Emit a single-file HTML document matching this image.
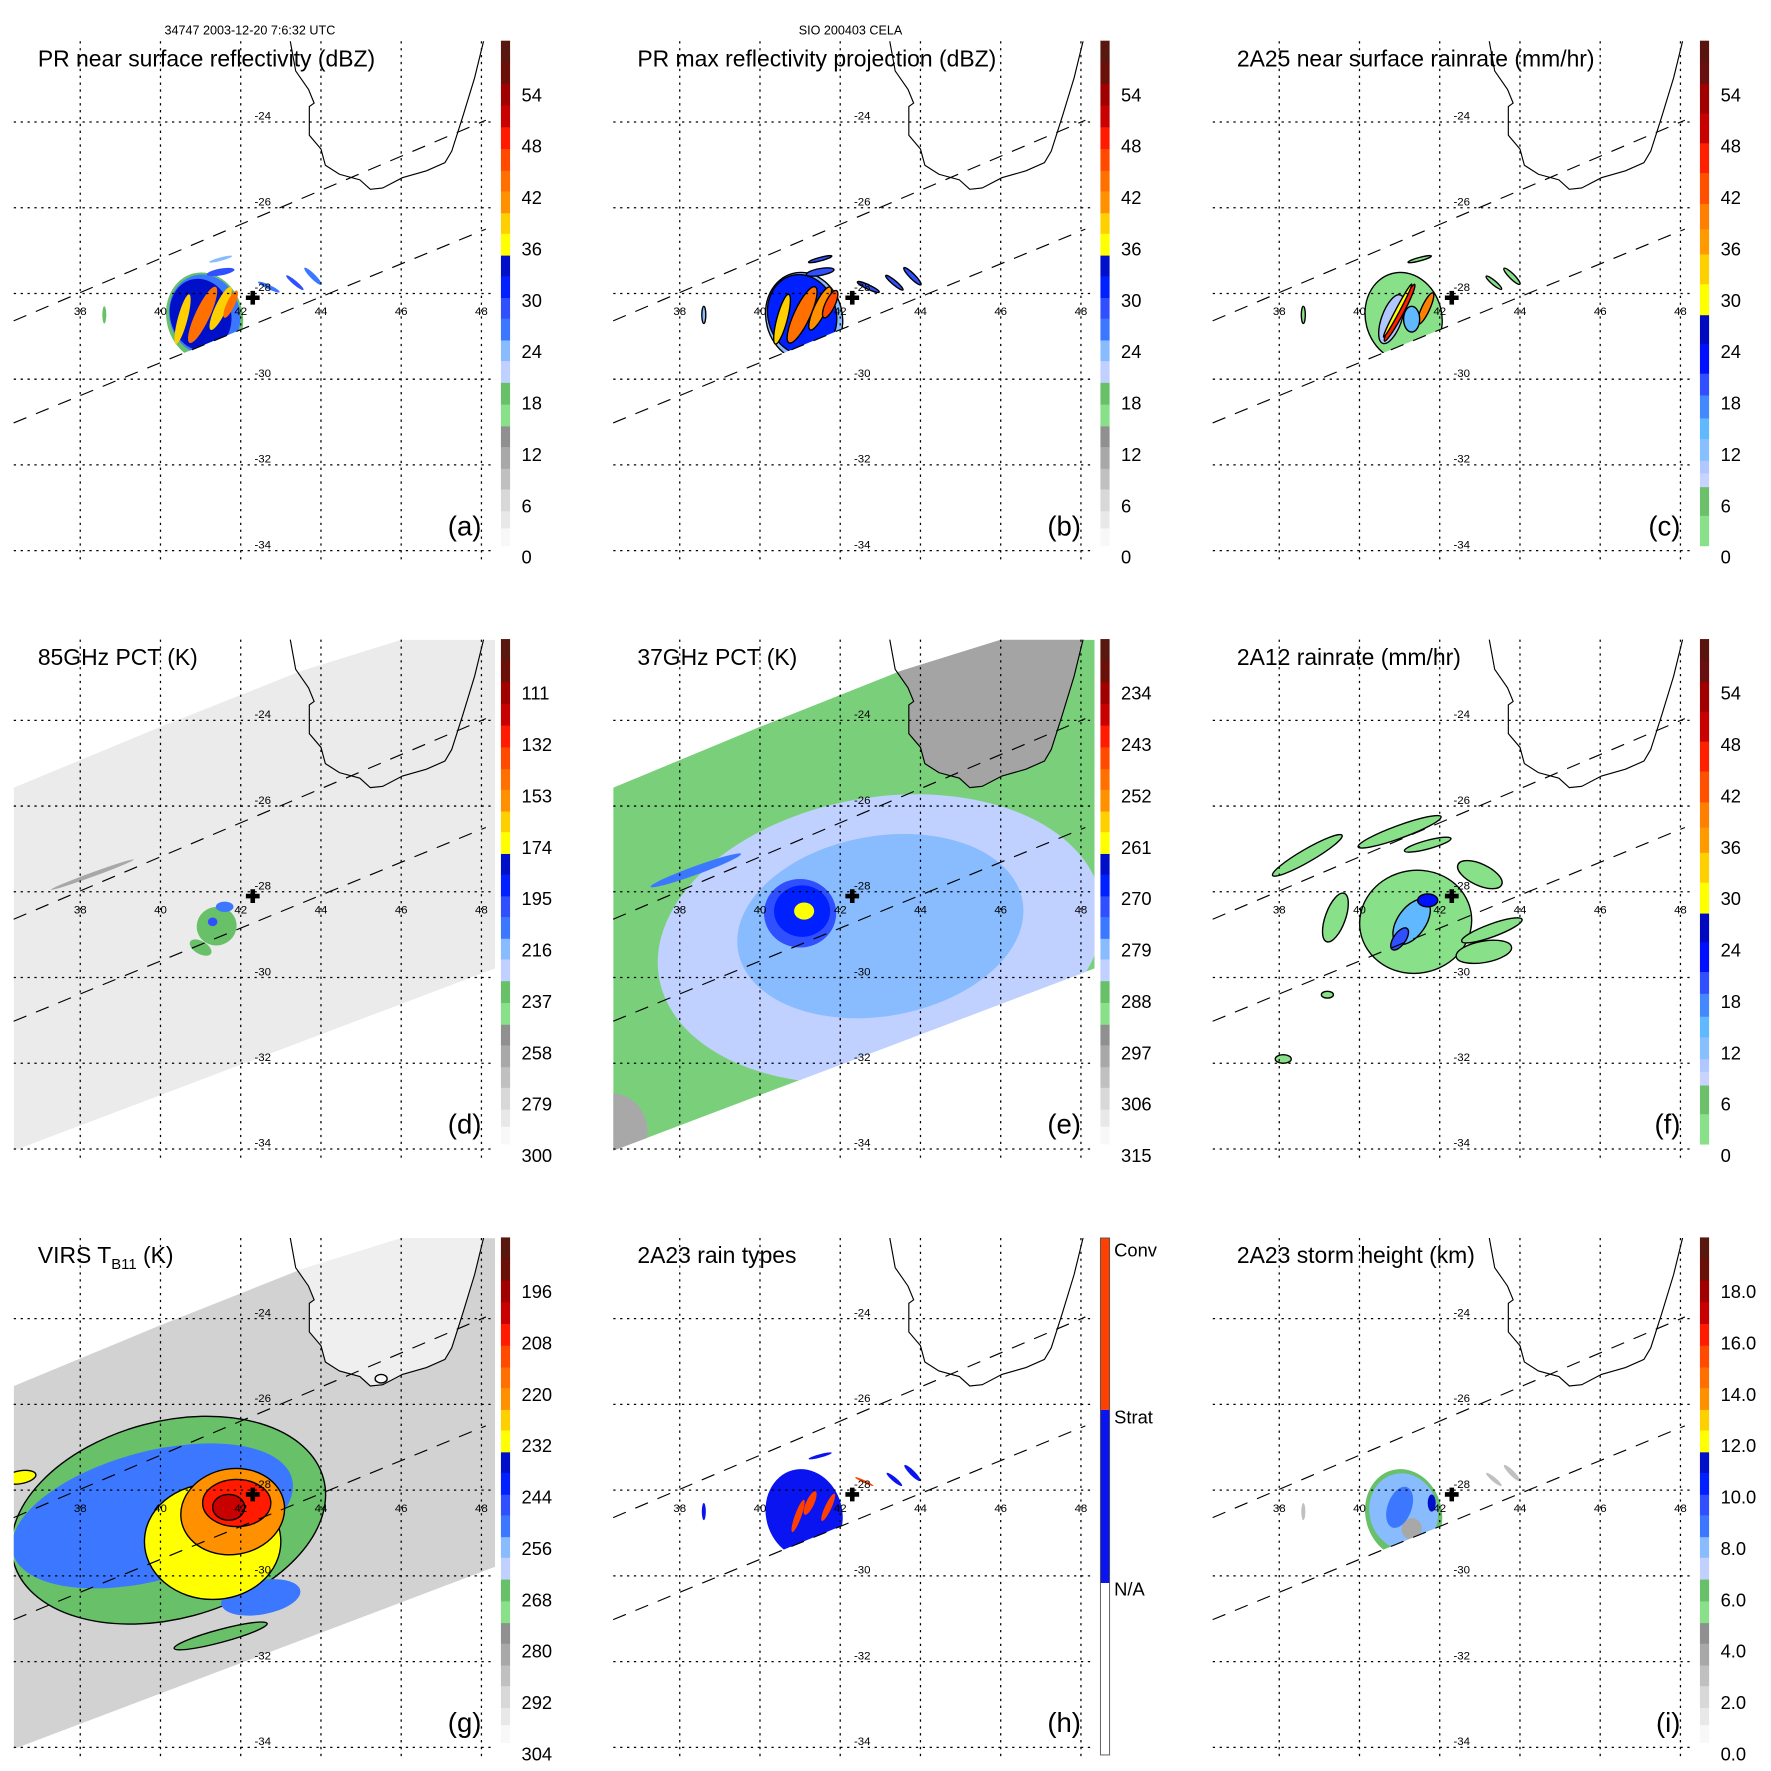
<!DOCTYPE html>
<html><head><meta charset="utf-8"><title>TRMM overpass panels</title>
<style>html,body{margin:0;padding:0;background:#fff;}svg{display:block;font-family:"Liberation Sans",sans-serif;}</style>
</head><body>
<svg id="fig" xmlns="http://www.w3.org/2000/svg" width="1771" height="1771" viewBox="0 0 1545 1545">
<text x="218" y="30" font-size="11" text-anchor="middle">34747 2003-12-20 7:6:32 UTC</text>
<text x="742" y="30" font-size="11" text-anchor="middle">SIO 200403 CELA</text>
</svg>
<script>
// ---- axis ticks ----
const lonTicks = [38, 40, 42, 44, 46, 48];
const latTicks = [-24, -26, -28, -30, -32, -34];
// ---- coastline (lon, lat) ----
const coastLon = [43.23,43.37,43.69,43.83,43.71,43.71,44.00,44.11,44.46,44.97,45.23,45.54,46.03,46.63,47.09,47.26,47.54,47.83,48.06];
const coastLat = [-22.09,-22.81,-23.24,-23.56,-23.64,-24.31,-24.63,-25.01,-25.22,-25.35,-25.57,-25.54,-25.30,-25.14,-24.95,-24.68,-23.86,-22.97,-22.09];
// ---- PR swath edges (lon, lat endpoints) ----
const prUpperLon = [36.34, 48.11], prUpperLat = [-28.64, -23.96];
const prLowerLon = [36.34, 48.11], prLowerLat = [-31.02, -26.50];
// ---- TMI/VIRS swath outline ----
const tmiLon = [36.34, 40.0, 43.5, 46.0, 48.34, 48.34, 36.34];
const tmiLat = [-25.57, -24.15, -22.85, -22.12, -22.12, -29.79, -34.04];
// ---- storm center ----
const centerLon = 42.3, centerLat = -28.1;
// ---- colorbar labels ----
const labelsA = [0,6,12,18,24,30,36,42,48,54];
const labelsC = [0,6,12,18,24,30,36,42,48,54];
const labelsD = [300,279,258,237,216,195,174,153,132,111];
const labelsE = [315,306,297,288,279,270,261,252,243,234];
const labelsF = [0,6,12,18,24,30,36,42,48,54];
const labelsG = [304,292,280,268,256,244,232,220,208,196];
const labelsI = ["0.0","2.0","4.0","6.0","8.0","10.0","12.0","14.0","16.0","18.0"];
const rainTypeNames = ["N/A","Strat","Conv"];
// ---- features: [lon, lat, halfLon, halfLat, tiltDeg, value] ----
const blobsA = [[41.1,-28.55,0.95,1.05,-15,20],[41.1,-28.5,0.88,0.95,-15,27],[41.0,-28.5,0.76,0.85,-15,33],[40.55,-28.6,0.12,0.6,15,38],[41.05,-28.5,0.18,0.72,25,43],[41.5,-28.35,0.14,0.55,25,40],[41.75,-28.25,0.1,0.35,25,45],[41.5,-27.5,0.35,0.08,-10,28],[42.7,-27.85,0.3,0.05,25,26],[43.35,-27.75,0.28,0.05,40,28],[43.8,-27.6,0.3,0.06,45,27],[41.5,-27.2,0.3,0.04,-15,25],[44.9,-27.95,0.06,0.05,0,30],[38.6,-28.5,0.05,0.2,0,18]];
const blobsB = [[41.1,-28.55,0.95,1.05,-15,24],[41.05,-28.5,0.85,0.95,-15,31],[40.55,-28.6,0.13,0.6,15,40],[41.05,-28.5,0.2,0.72,25,44],[41.5,-28.35,0.15,0.55,25,42],[41.75,-28.25,0.12,0.35,25,46],[41.5,-27.5,0.35,0.08,-10,30],[42.7,-27.85,0.3,0.05,25,28],[43.35,-27.75,0.28,0.05,40,30],[43.8,-27.6,0.3,0.06,45,30],[41.5,-27.2,0.3,0.04,-15,28],[44.9,-27.95,0.06,0.05,0,30],[38.6,-28.5,0.05,0.2,0,24]];
const blobsC = [[41.1,-28.55,0.95,1.05,-15,3],[40.8,-28.6,0.25,0.6,20,10],[41.0,-28.45,0.09,0.75,28,45],[40.95,-28.4,0.05,0.7,28,30],[41.65,-28.35,0.1,0.4,25,40],[41.3,-28.6,0.2,0.3,0,15],[43.35,-27.75,0.25,0.05,40,3],[43.8,-27.6,0.28,0.06,45,3],[41.5,-27.2,0.3,0.04,-15,3],[38.6,-28.5,0.05,0.2,0,3]];
const blobsD = [[38.3,-27.6,1.1,0.05,-20,260],[41.4,-28.8,0.5,0.45,-20,237],[41.0,-29.3,0.3,0.15,30,237],[41.6,-28.35,0.22,0.12,0,210],[41.3,-28.7,0.12,0.1,0,200]];
const blobsE = [[36.3,-33.6,0.9,0.9,0,298],[43.0,-29.1,5.6,3.3,-10,284],[43.0,-28.8,3.6,2.1,-10,279.5],[38.4,-27.5,1.2,0.1,-20,274],[41.0,-28.5,0.9,0.8,0,272],[41.05,-28.45,0.7,0.6,0,268],[41.1,-28.4,0.5,0.4,0,266],[41.1,-28.45,0.25,0.2,0,260]];
const blobsF = [[41.4,-28.7,1.4,1.2,-10,3],[43.1,-29.4,0.7,0.25,-10,3],[38.7,-27.15,1.0,0.15,-30,3],[41.0,-26.6,1.1,0.15,-20,3],[41.7,-26.9,0.6,0.1,-15,3],[43.0,-27.6,0.6,0.25,25,3],[43.3,-28.9,0.8,0.15,-20,3],[39.4,-28.6,0.25,0.6,20,3],[39.2,-30.4,0.15,0.08,0,3],[38.1,-31.9,0.2,0.1,0,3],[41.3,-28.7,0.35,0.6,35,14],[41.7,-28.2,0.25,0.15,0,22],[41.0,-29.1,0.15,0.3,35,20]];
const blobsG = [[40.2,-28.7,4.0,2.3,-15,266],[39.8,-28.6,3.6,1.5,-15,252],[42.5,-30.5,1.0,0.4,-10,250],[41.5,-31.4,1.2,0.15,-15,266],[36.5,-27.7,0.4,0.15,-10,232],[41.3,-29.2,1.7,1.35,0,230],[41.8,-28.5,1.3,1.0,-10,220],[41.9,-28.3,0.85,0.55,0,208],[41.7,-28.4,0.4,0.3,0,200],[45.5,-25.4,0.15,0.1,0,310]];
const blobsH = [[41.1,-28.55,0.95,1.05,-15,1],[40.95,-28.6,0.08,0.4,20,2],[41.25,-28.3,0.1,0.3,25,2],[41.7,-28.4,0.08,0.35,25,2],[43.35,-27.75,0.25,0.05,40,1],[43.8,-27.6,0.28,0.06,45,1],[41.5,-27.2,0.3,0.04,-15,1],[42.6,-27.8,0.25,0.03,25,2],[38.6,-28.5,0.05,0.2,0,1]];
const blobsI = [[41.1,-28.55,0.95,1.05,-15,6.5],[41.1,-28.5,0.85,0.9,-15,8],[41.3,-28.9,0.25,0.25,20,4],[41.0,-28.4,0.3,0.5,20,9],[41.8,-28.3,0.1,0.2,0,11],[43.35,-27.75,0.25,0.05,40,3],[43.8,-27.6,0.28,0.06,45,3],[38.6,-28.5,0.05,0.2,0,3]];

// ---- styles (palettes) ----
const palAEdges=[35.5,54,73,92,111,130,149,167,186,204,223,241,260,278,297,315,334,353,372,390,409,427,446,461,476];
const palAColors=["#581810","#6a1008","#a00000","#c80000","#ff1a00","#ff4a00","#ff7000","#ff9000","#ffd000","#ffff00","#0010c8","#0020ff","#3050ff","#3c78ff","#88bcff","#c0d0ff","#68c068","#88e088","#909090","#a8a8a8","#c0c0c0","#d8d8d8","#e8e8e8","#f8f8f8"];
const palCEdges=[35.5,54,73,99,125,151,178,200,222,248,275,300,326,345,365,383,402,413,425,450,476];
const palCColors=["#5a1410","#681010","#a00000","#c80000","#ff2000","#ff5000","#ff8000","#ff9a00","#ffd000","#ffff00","#0008c0","#0010ff","#3050ff","#4488ff","#60b8ff","#88c0ff","#b0c8ff","#c8d4ff","#6cc06c","#88e088"];
const NS="http://www.w3.org/2000/svg";
const svg=document.getElementById('fig');
function mk(tag,attrs,parent){const e=document.createElementNS(NS,tag);for(const k in attrs)e.setAttribute(k,attrs[k]);(parent||svg).appendChild(e);return e;}
function X(p,lon){return p.ox+140+(lon-40)*35;}
function Y(p,lat){return p.oy+256+(-28-lat)*37.4;}
function labelY(i){return 485.8-i*44.82;}
function valueToY(p,v){const L=p.labels.map(Number);return 485.8-(v-L[0])/(L[1]-L[0])*44.82;}
function palColor(edges,colors,y){for(let i=0;i<colors.length;i++){if(y<edges[i+1])return colors[i];}return colors[colors.length-1];}

const panels=[
 {id:'a',ox:0,oy:0,title:'PR near surface reflectivity (dBZ)',labels:labelsA,pal:'A',blobs:blobsA,clip:'pr'},
 {id:'b',ox:523,oy:0,title:'PR max reflectivity projection (dBZ)',labels:labelsA,pal:'A',blobs:blobsB,clip:'pr',outline:1},
 {id:'c',ox:1046,oy:0,title:'2A25 near surface rainrate (mm/hr)',labels:labelsC,pal:'C',blobs:blobsC,clip:'pr',outline:1},
 {id:'d',ox:0,oy:522,title:'85GHz PCT (K)',labels:labelsD,pal:'A',blobs:blobsD,clip:'tmi',swath:'#ebebeb'},
 {id:'e',ox:523,oy:522,title:'37GHz PCT (K)',labels:labelsE,pal:'A',blobs:blobsE,clip:'tmi',swath:'#7ad07a',land:'#a4a4a4'},
 {id:'f',ox:1046,oy:522,title:'2A12 rainrate (mm/hr)',labels:labelsF,pal:'C',blobs:blobsF,clip:'plot',outline:1},
 {id:'g',ox:0,oy:1044,title:'VIRS',labels:labelsG,pal:'A',blobs:blobsG,clip:'tmi',swath:'#d2d2d2',land:'#efefef',outline:1},
 {id:'h',ox:523,oy:1044,title:'2A23 rain types',labels:null,pal:'H',blobs:blobsH,clip:'pr'},
 {id:'i',ox:1046,oy:1044,title:'2A23 storm height (km)',labels:labelsI,pal:'A',blobs:blobsI,clip:'pr'}
];

panels.forEach(p=>{
 const g=mk('g',{});
 
 
 const defs=mk('defs',{},g);
 const cp=mk('clipPath',{id:'plot-'+p.id},defs);
 mk('rect',{x:p.ox+12,y:p.oy+36,width:420,height:446},cp);
 const cs=mk('clipPath',{id:'swath-'+p.id},defs);
 if(p.clip==='pr'){
  const pts=[[X(p,prUpperLon[0]),Y(p,prUpperLat[0])],[X(p,prUpperLon[1]),Y(p,prUpperLat[1])],[X(p,prLowerLon[1]),Y(p,prLowerLat[1])],[X(p,prLowerLon[0]),Y(p,prLowerLat[0])]];
  mk('polygon',{points:pts.map(q=>q.join(',')).join(' ')},cs);
 } else if(p.clip==='tmi'){
  mk('polygon',{points:tmiLon.map((l,i)=>X(p,l)+','+Y(p,tmiLat[i])).join(' ')},cs);
 } else {
  mk('rect',{x:p.ox+12,y:p.oy+36,width:420,height:446},cs);
 }
 const plot=mk('g',{'clip-path':'url(#plot-'+p.id+')'},g);
 const data=mk('g',{'clip-path':'url(#swath-'+p.id+')'},plot);
 
 
 if(p.swath){
  const sw=mk('polygon',{points:tmiLon.map((l,i)=>X(p,l)+','+Y(p,tmiLat[i])).join(' '),fill:p.swath},data);
  
  
 }
 if(p.land){
  const pts=coastLon.map((l,i)=>X(p,l)+','+Y(p,coastLat[i])).join(' ');
  const ld=mk('polygon',{points:pts,fill:p.land},data);
  
  
 }
 p.blobs.forEach(b=>{
  let col;
  if(p.pal==='H'){col=b[5]===2?'#ff4000':(b[5]===1?'#0a14f0':'#ffffff');}
  else{const y=valueToY(p,b[5]);col=p.pal==='C'?palColor(palCEdges,palCColors,y):palColor(palAEdges,palAColors,y);}
  const cx=X(p,b[0]),cy=Y(p,b[1]);
  const attrs={cx:cx,cy:cy,rx:b[2]*35,ry:b[3]*37.4,transform:'rotate('+b[4]+' '+cx+' '+cy+')',fill:col};
  if(p.outline&&!(p.id==='g'&&b[5]>240&&b[5]<300&&b[5]!==266)){attrs.stroke='#000';attrs['stroke-width']=1.2;}
  const e=mk('ellipse',attrs,data);
  
  
 });
 const cl=mk('polyline',{points:coastLon.map((l,i)=>X(p,l)+','+Y(p,coastLat[i])).join(' '),fill:'none',stroke:'#000','stroke-width':1},plot);
 
 
 latTicks.forEach(lat=>{
  const l=mk('line',{x1:p.ox+12,x2:p.ox+432,y1:Y(p,lat),y2:Y(p,lat),stroke:'#000','stroke-width':1.1,'stroke-dasharray':'2,4'},g);
  
  
  const t=mk('text',{x:X(p,42)+12,y:Y(p,lat)-2,'font-size':10},g);t.textContent=lat;
  
  
 });
 lonTicks.forEach(lon=>{
  const l=mk('line',{x1:X(p,lon),x2:X(p,lon),y1:p.oy+36,y2:p.oy+488,stroke:'#000','stroke-width':1.1,'stroke-dasharray':'2,4'},g);
  
  
  const t=mk('text',{x:X(p,lon),y:Y(p,-28)+19,'font-size':10,'text-anchor':'middle'},g);t.textContent=lon;
  
  
 });
 [[prUpperLon,prUpperLat],[prLowerLon,prLowerLat]].forEach(s=>{
  const l=mk('line',{x1:X(p,s[0][0]),y1:Y(p,s[1][0]),x2:X(p,s[0][1]),y2:Y(p,s[1][1]),stroke:'#000','stroke-width':1,'stroke-dasharray':'12,9'},g);
  
  
 });
 const cx=X(p,centerLon),cy=Y(p,centerLat);
 const cr=mk('path',{d:`M${cx-6},${cy}H${cx+6}M${cx},${cy-6}V${cy+6}`,stroke:'#000','stroke-width':4},g);
 
 
 const tt=mk('text',{x:p.ox+33,y:p.oy+58,'font-size':20},g);
 
 
 if(p.id==='g'){tt.textContent='VIRS T';const s=mk('tspan',{'font-size':13,dy:5},tt);s.textContent='B11';const s2=mk('tspan',{dy:-5},tt);s2.textContent=' (K)';}
 else tt.textContent=p.title;
 const pl=mk('text',{x:p.ox+420,y:p.oy+467,'font-size':24,'text-anchor':'end'},g);pl.textContent='('+p.id+')';
 
 
 const cb=mk('g',{},g);
 
 
 const bx=p.ox+437;
 if(p.pal==='H'){
  const segs=[[36,186,'#ff4000'],[186,337,'#0a14f0'],[337,487,'#ffffff']];
  segs.forEach(s=>mk('rect',{x:bx,y:p.oy+s[0],width:8,height:s[1]-s[0],fill:s[2]},cb));
  mk('rect',{x:bx,y:p.oy+36,width:8,height:451,fill:'none',stroke:'#555','stroke-width':0.8},cb);
  const ly=[42,192,342];
  rainTypeNames.slice().reverse().forEach((n,i)=>{const t=mk('text',{x:bx+12,y:p.oy+ly[i]+(i===0?4:0)+6,'font-size':16},cb);t.textContent=n;
   
   });
 } else {
  const E=p.pal==='C'?palCEdges:palAEdges, C=p.pal==='C'?palCColors:palAColors;
  C.forEach((c,i)=>mk('rect',{x:bx,y:p.oy+E[i],width:8,height:E[i+1]-E[i]+0.5,fill:c},cb));
  p.labels.forEach((v,i)=>{const t=mk('text',{x:bx+18,y:p.oy+labelY(i)+6,'font-size':16},cb);t.textContent=v;
   
   });
 }
});
</script>
</body></html>
